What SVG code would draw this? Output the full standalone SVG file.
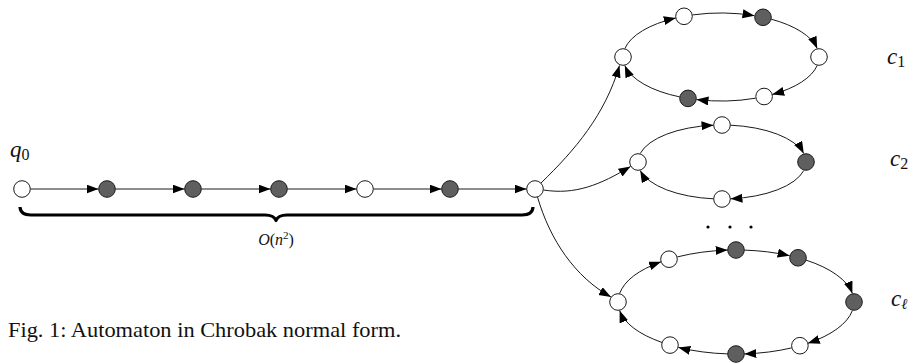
<svg xmlns="http://www.w3.org/2000/svg" width="915" height="364" viewBox="0 0 915 364">
<style>
.n{stroke:#1a1a1a;stroke-width:1}
.w{fill:#ffffff}
.d{fill:#5f5f5f}
.e{fill:none;stroke:#1a1a1a;stroke-width:1;marker-end:url(#ah)}
text{font-family:"Liberation Serif","DejaVu Serif",serif;fill:#111}
.m{font-style:italic}
</style>
<defs>
<marker id="ah" markerUnits="userSpaceOnUse" markerWidth="14" markerHeight="10" refX="12" refY="4.5" orient="auto">
<path d="M0,0 L12,4.5 L0,9 z" fill="#000"/>
</marker>
</defs>
<rect width="915" height="364" fill="#fff"/>

<g id="connectors">
<path class="e" d="M30.5,189 L98.5,189"/>
<path class="e" d="M115.5,189 L184.5,189"/>
<path class="e" d="M201.5,189 L270.5,189"/>
<path class="e" d="M287.5,189 L356.5,189"/>
<path class="e" d="M373.5,189 L441.5,189"/>
<path class="e" d="M458.5,189 L526.5,189"/>
<path class="e" d="M541,183 C575,150 605,115 619.5,65.5"/>
<path class="e" d="M543.5,190 C575,195 600,185 630.5,166.5"/>
<path class="e" d="M537.5,197 C550,240 575,277 611,297"/>
<path class="e" d="M624.9,48.5 A98 44 0 0 1 675.8,18"/>
<path class="e" d="M692.5,14.9 A98 44 0 0 1 754.5,15.7"/>
<path class="e" d="M771.2,19.2 A98 44 0 0 1 817.2,48.5"/>
<path class="e" d="M817.2,65.5 A98 44 0 0 1 772.2,94.5"/>
<path class="e" d="M755.6,98.2 A98 44 0 0 1 696.5,99.6"/>
<path class="e" d="M679.7,96.9 A98 44 0 0 1 624.8,65.5"/>
<path class="e" d="M640.2,153.5 A84 37 0 0 1 713.5,125.2"/>
<path class="e" d="M730.5,125.2 A84 37 0 0 1 803.8,153.5"/>
<path class="e" d="M803.8,170.5 A84 37 0 0 1 730.5,198.8"/>
<path class="e" d="M713.5,198.8 A84 37 0 0 1 640.2,170.5"/>
<path class="e" d="M619.6,293.5 A118 52 0 0 1 661.1,261.8"/>
<path class="e" d="M677.4,256.9 A118 52 0 0 1 727.6,250.1"/>
<path class="e" d="M744.4,250.1 A118 52 0 0 1 789.6,255.7"/>
<path class="e" d="M806,260.1 A118 52 0 0 1 852.4,293.5"/>
<path class="e" d="M852.4,310.5 A118 52 0 0 1 807.8,343.3"/>
<path class="e" d="M791.6,347.9 A118 52 0 0 1 744.4,353.9"/>
<path class="e" d="M727.6,353.9 A118 52 0 0 1 678.4,347.4"/>
<path class="e" d="M662.1,342.5 A118 52 0 0 1 619.6,310.5"/>
</g>

<g id="brace">
<path d="M20,207 Q20.5,215 31,215 L265,215 Q274,215 276,220.5 Q278,215 287,215 L522,215 Q532.5,215 533,207" fill="none" stroke="#000" stroke-width="3.2" stroke-linejoin="round"/>
<text x="276" y="245" text-anchor="middle" font-size="16"><tspan class="m">O</tspan>(<tspan class="m">n</tspan><tspan font-size="11" dy="-6">2</tspan><tspan dy="6">)</tspan></text>
</g>

<g id="chain">
<g id="q0"><circle class="n w" cx="22" cy="189" r="8.3"/><text class="m" x="10" y="157" font-size="23">q<tspan font-style="normal" font-size="16" dy="3">0</tspan></text></g>
<g id="s1"><circle class="n d" cx="107" cy="189" r="8.3"/></g>
<g id="s2"><circle class="n d" cx="193" cy="189" r="8.3"/></g>
<g id="s3"><circle class="n d" cx="279" cy="189" r="8.3"/></g>
<g id="s4"><circle class="n w" cx="365" cy="189" r="8.3"/></g>
<g id="s5"><circle class="n d" cx="450" cy="189" r="8.3"/></g>
<g id="hub"><circle class="n w" cx="535" cy="189" r="8.3"/></g>
</g>

<g id="cycle1">
<circle class="n w" cx="623" cy="57" r="8.3"/>
<circle class="n w" cx="684" cy="16.3" r="8.3"/>
<circle class="n d" cx="763" cy="17.3" r="8.3"/>
<circle class="n w" cx="819" cy="57" r="8.3"/>
<circle class="n w" cx="764.1" cy="96.5" r="8.3"/>
<circle class="n d" cx="688" cy="98.4" r="8.3"/>
<text class="m" x="887" y="64" font-size="23">c<tspan font-style="normal" font-size="16" dy="3">1</tspan></text>
</g>

<g id="cycle2">
<circle class="n w" cx="638" cy="162" r="8.3"/>
<circle class="n w" cx="722" cy="125" r="8.3"/>
<circle class="n d" cx="806" cy="162" r="8.3"/>
<circle class="n w" cx="722" cy="199" r="8.3"/>
<text class="m" x="890" y="166" font-size="23">c<tspan font-style="normal" font-size="16" dy="3">2</tspan></text>
</g>

<g id="dots">
<circle cx="708" cy="227" r="1.6" fill="#000"/>
<circle cx="730" cy="227" r="1.6" fill="#000"/>
<circle cx="751" cy="227" r="1.6" fill="#000"/>
</g>

<g id="cyclel">
<circle class="n w" cx="618" cy="302" r="8.3"/>
<circle class="n w" cx="669" cy="259.2" r="8.3"/>
<circle class="n d" cx="736" cy="250" r="8.3"/>
<circle class="n d" cx="798" cy="257.8" r="8.3"/>
<circle class="n d" cx="854" cy="302" r="8.3"/>
<circle class="n w" cx="799.9" cy="345.7" r="8.3"/>
<circle class="n d" cx="736" cy="354" r="8.3"/>
<circle class="n w" cx="670" cy="345.1" r="8.3"/>
<text class="m" x="891" y="306" font-size="23">c<tspan font-size="15" dy="3">ℓ</tspan></text>
</g>

<g id="caption">
<text x="8" y="337" font-size="21" textLength="393" lengthAdjust="spacingAndGlyphs">Fig. 1: Automaton in Chrobak normal form.</text>
</g>
</svg>
